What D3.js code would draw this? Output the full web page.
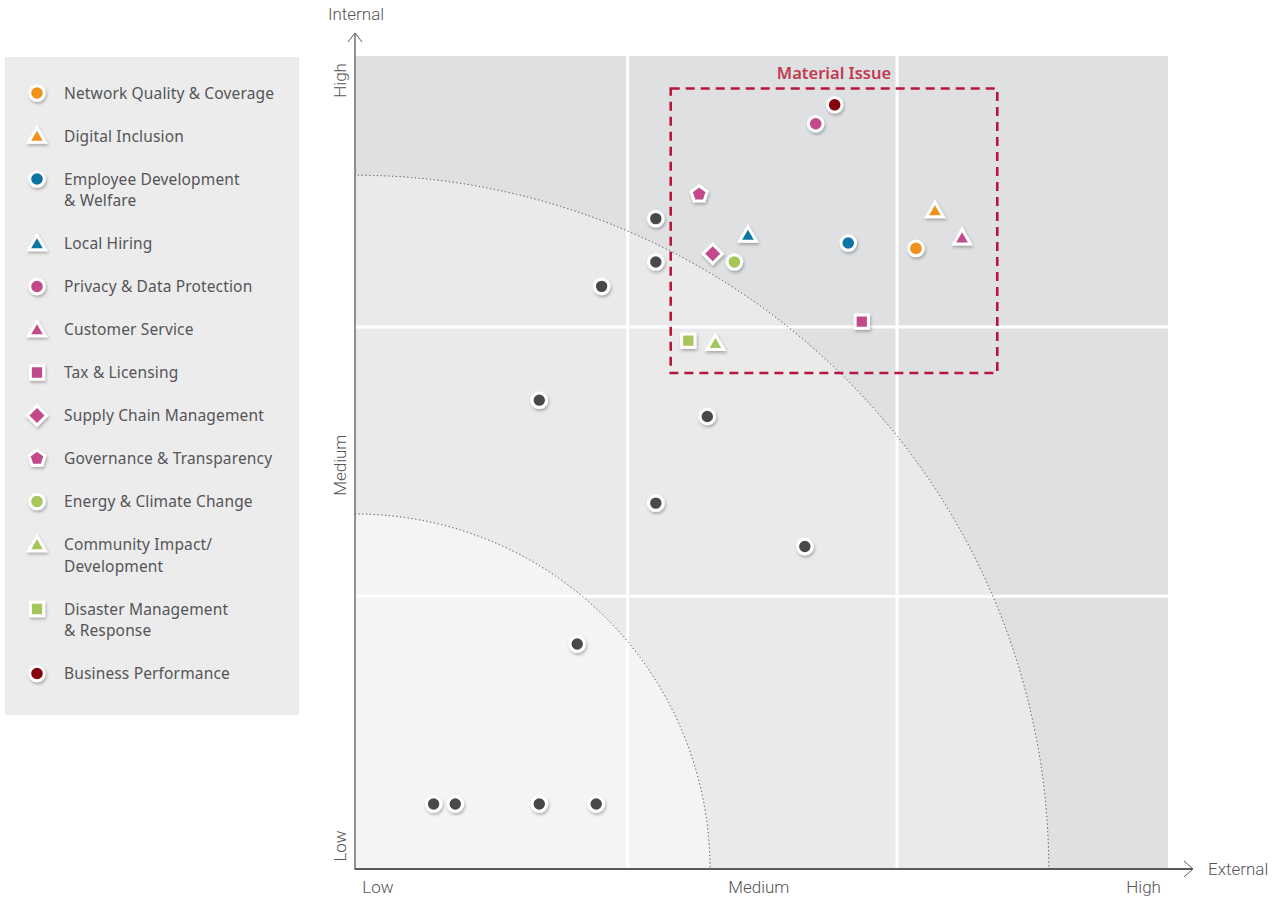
<!DOCTYPE html>
<html>
<head>
<meta charset="utf-8">
<script src="https://cdn.jsdelivr.net/npm/d3@7"></script>
<style>
  html, body { margin: 0; padding: 0; background: #ffffff; }
  svg { display: block; }
</style>
</head>
<body>
<svg id="chart" width="1285" height="898"></svg>
<script>
// Material issues: importance to external stakeholders (x) and to the company (y), 0 = low .. 3 = high
const issueNames = [
  "Network Quality & Coverage",
  "Digital Inclusion",
  "Employee Development\n& Welfare",
  "Local Hiring",
  "Privacy & Data Protection",
  "Customer Service",
  "Tax & Licensing",
  "Supply Chain Management",
  "Governance & Transparency",
  "Energy & Climate Change",
  "Community Impact/\nDevelopment",
  "Disaster Management\n& Response",
  "Business Performance"
];
const issueExternal = [2.07, 2.14, 1.82, 1.45, 1.70, 2.24, 1.87, 1.32, 1.27, 1.40, 1.33, 1.23, 1.77];
const issueInternal = [2.29, 2.43, 2.31, 2.34, 2.75, 2.33, 2.02, 2.27, 2.49, 2.24, 1.94, 1.95, 2.82];

// Other assessed topics (not material)
const otherExternal = [1.11, 1.11, 0.91, 0.68, 1.30, 1.11, 1.66, 0.82, 0.29, 0.37, 0.68, 0.89];
const otherInternal = [2.40, 2.24, 2.15, 1.73, 1.67, 1.35, 1.19, 0.83, 0.24, 0.24, 0.24, 0.24];

const levelLabels = ["Low", "Medium", "High"];
const levelTicks = [0.085, 1.49, 2.91];
const zoneRadii = [1.31, 2.56];
const gridLevels = [1.006, 2.0];
const materialBoxX = [1.165, 2.37];
const materialBoxY = [1.83, 2.88];

// ---- styling ----
const issueColors = ["#f0921e", "#f0921e", "#0e74a3", "#0e74a3", "#c2488a", "#c2488a", "#c2488a",
                     "#c2488a", "#c2488a", "#a5c65a", "#a5c65a", "#a5c65a", "#870010"];
const issueShapes = ["circle", "triangle", "circle", "triangle", "circle", "triangle", "square",
                     "diamond", "pentagon", "circle", "triangle", "square", "circle"];
const otherColor = "#48484b";
const textColor = "#555558";
const font = "'Noto Sans', 'Open Sans', sans-serif";

const svg = d3.select("#chart");
const plot = { left: 355, right: 1168, top: 56, bottom: 869 };

const x = d3.scaleLinear().domain([0, 3]).range([plot.left, plot.right]);
const y = d3.scaleLinear().domain([0, 3]).range([plot.bottom, plot.top]);
const unit = x(1) - x(0);

const defs = svg.append("defs");
defs.append("clipPath").attr("id", "plot-clip")
  .append("rect")
  .attr("x", plot.left).attr("y", plot.top)
  .attr("width", plot.right - plot.left).attr("height", plot.bottom - plot.top);

const shadow = defs.append("filter").attr("id", "soft-shadow")
  .attr("x", "-50%").attr("y", "-50%").attr("width", "200%").attr("height", "200%");
shadow.append("feDropShadow")
  .attr("dx", 1).attr("dy", 2).attr("stdDeviation", 1.6)
  .attr("flood-color", "#000").attr("flood-opacity", 0.28);

// ---- background zones ----
const bg = svg.append("g").attr("clip-path", "url(#plot-clip)");
bg.append("rect")
  .attr("x", plot.left).attr("y", plot.top)
  .attr("width", plot.right - plot.left).attr("height", plot.bottom - plot.top)
  .attr("fill", "#dfe0e2");
const zoneFills = ["#f4f4f4", "#eaeaea"];
[1, 0].forEach(i => {
  bg.append("circle")
    .attr("cx", x(0)).attr("cy", y(0))
    .attr("r", zoneRadii[i] * unit)
    .attr("fill", zoneFills[i]);
});

// white grid
bg.selectAll("line.vgrid").data(gridLevels).join("line")
  .attr("x1", d => x(d)).attr("x2", d => x(d))
  .attr("y1", plot.top).attr("y2", plot.bottom)
  .attr("stroke", "#ffffff").attr("stroke-width", 3);
bg.selectAll("line.hgrid").data(gridLevels).join("line")
  .attr("y1", d => y(d)).attr("y2", d => y(d))
  .attr("x1", plot.left).attr("x2", plot.right)
  .attr("stroke", "#ffffff").attr("stroke-width", 3);

// dotted zone boundaries
bg.selectAll("circle.arc").data(zoneRadii).join("circle")
  .attr("cx", x(0)).attr("cy", y(0))
  .attr("r", d => d * unit)
  .attr("fill", "none")
  .attr("stroke", "#444")
  .attr("stroke-width", 1)
  .attr("stroke-dasharray", "1.2,2.6");

// ---- axes ----
const axisColor = "#5a5a5c";
const axes = svg.append("g").attr("stroke", axisColor).attr("fill", "none");
axes.append("line").attr("x1", plot.left).attr("x2", plot.left)
  .attr("y1", plot.bottom + 1).attr("y2", 33).attr("stroke-width", 1.3);
axes.append("path").attr("d", `M${plot.left - 7},${42}L${plot.left},${33}L${plot.left + 7},${42}`)
  .attr("stroke-width", 1);
axes.append("line").attr("x1", plot.left).attr("x2", 1192)
  .attr("y1", plot.bottom).attr("y2", plot.bottom).attr("stroke-width", 2);
axes.append("path").attr("d", `M1184,${plot.bottom - 8}L1193,${plot.bottom}L1184,${plot.bottom + 8}`)
  .attr("stroke-width", 1);

const axisFont = "Roboto, 'Liberation Sans', sans-serif";
svg.append("text").text("Internal")
  .attr("x", plot.left + 1).attr("y", 20)
  .attr("text-anchor", "middle")
  .attr("font-family", axisFont).attr("font-weight", 300).attr("font-size", 17)
  .attr("fill", textColor);
svg.append("text").text("External")
  .attr("x", 1208).attr("y", plot.bottom + 6)
  .attr("font-family", axisFont).attr("font-weight", 300).attr("font-size", 17)
  .attr("fill", textColor);

svg.selectAll("text.xlevel").data(levelLabels).join("text")
  .attr("x", (d, i) => x(levelTicks[i]))
  .attr("y", 893)
  .attr("text-anchor", "middle")
  .attr("font-family", axisFont).attr("font-weight", 300).attr("font-size", 17)
  .attr("fill", textColor)
  .text(d => d);
svg.selectAll("text.ylevel").data(levelLabels).join("text")
  .attr("transform", (d, i) => `translate(346,${y(levelTicks[i])}) rotate(-90)`)
  .attr("text-anchor", "middle")
  .attr("font-family", axisFont).attr("font-weight", 300).attr("font-size", 17)
  .attr("fill", textColor)
  .text(d => d);

// ---- material issue box ----
svg.append("rect")
  .attr("x", x(materialBoxX[0])).attr("y", y(materialBoxY[1]))
  .attr("width", x(materialBoxX[1]) - x(materialBoxX[0]))
  .attr("height", y(materialBoxY[0]) - y(materialBoxY[1]))
  .attr("fill", "none")
  .attr("stroke", "#b8173c").attr("stroke-width", 2.6)
  .attr("stroke-dasharray", "9,6");
svg.append("text").text("Material Issue")
  .attr("x", 834)
  .attr("y", 79)
  .attr("text-anchor", "middle")
  .attr("font-family", font).attr("font-weight", 600).attr("font-size", 16.5)
  .attr("fill", "#c03a50");

// ---- marker shapes ----
function pentagonPath(r) {
  const pts = d3.range(5).map(k => {
    const a = -Math.PI / 2 + k * 2 * Math.PI / 5;
    return [r * Math.cos(a), r * Math.sin(a)];
  });
  return "M" + pts.map(p => p.join(",")).join("L") + "Z";
}
function shapePath(shape, s) {
  switch (shape) {
    case "circle": return d3.symbol(d3.symbolCircle, Math.PI * s * s)();
    case "triangle": return d3.symbol(d3.symbolTriangle, 2.3 * s * s)();
    case "square": return d3.symbol(d3.symbolSquare, 3.3 * s * s)();
    case "diamond": return d3.symbol(d3.symbolSquare, 3.5 * s * s)();
    case "pentagon": return pentagonPath(s * 1.15);
  }
}
function shapeOffset(shape) {
  return shape === "triangle" ? 1.5 : 0;
}
function drawMarker(g, shape, color, size) {
  g.append("path")
    .attr("d", shapePath(shape, size))
    .attr("transform", `translate(0,${shapeOffset(shape)})` + (shape === "diamond" ? " rotate(45)" : ""))
    .attr("fill", color)
    .attr("stroke", "#ffffff")
    .attr("stroke-width", 3)
    .attr("stroke-linejoin", "miter");
}

// ---- other topics ----
const otherG = svg.append("g").attr("filter", "url(#soft-shadow)");
otherG.selectAll("circle").data(otherExternal).join("circle")
  .attr("cx", d => x(d))
  .attr("cy", (d, i) => y(otherInternal[i]))
  .attr("r", 7.3)
  .attr("fill", otherColor)
  .attr("stroke", "#ffffff")
  .attr("stroke-width", 3.2);

// ---- material issues ----
const issueG = svg.append("g").attr("filter", "url(#soft-shadow)");
issueNames.forEach((name, i) => {
  const g = issueG.append("g")
    .attr("transform", `translate(${x(issueExternal[i])},${y(issueInternal[i])})`);
  drawMarker(g, issueShapes[i], issueColors[i], 7.3);
});

// ---- legend ----
svg.append("rect")
  .attr("x", 5).attr("y", 57).attr("width", 294).attr("height", 658)
  .attr("fill", "#ececec");

const legendG = svg.append("g");
let rowY = 93;
issueNames.forEach((name, i) => {
  const lines = name.split("\n");
  const mg = legendG.append("g")
    .attr("transform", `translate(37,${rowY})`)
    .attr("filter", "url(#soft-shadow)");
  drawMarker(mg, issueShapes[i], issueColors[i], 7.3);
  const t = legendG.append("text")
    .attr("x", 64).attr("y", rowY + 5.5)
    .attr("font-family", font).attr("font-size", 15.5)
    .attr("letter-spacing", 0.15)
    .attr("fill", textColor);
  lines.forEach((ln, k) => {
    t.append("tspan").attr("x", 64).attr("dy", k === 0 ? 0 : 21.5).text(ln);
  });
  rowY += 43 + 21.5 * (lines.length - 1);
});
</script>
</body>
</html>
